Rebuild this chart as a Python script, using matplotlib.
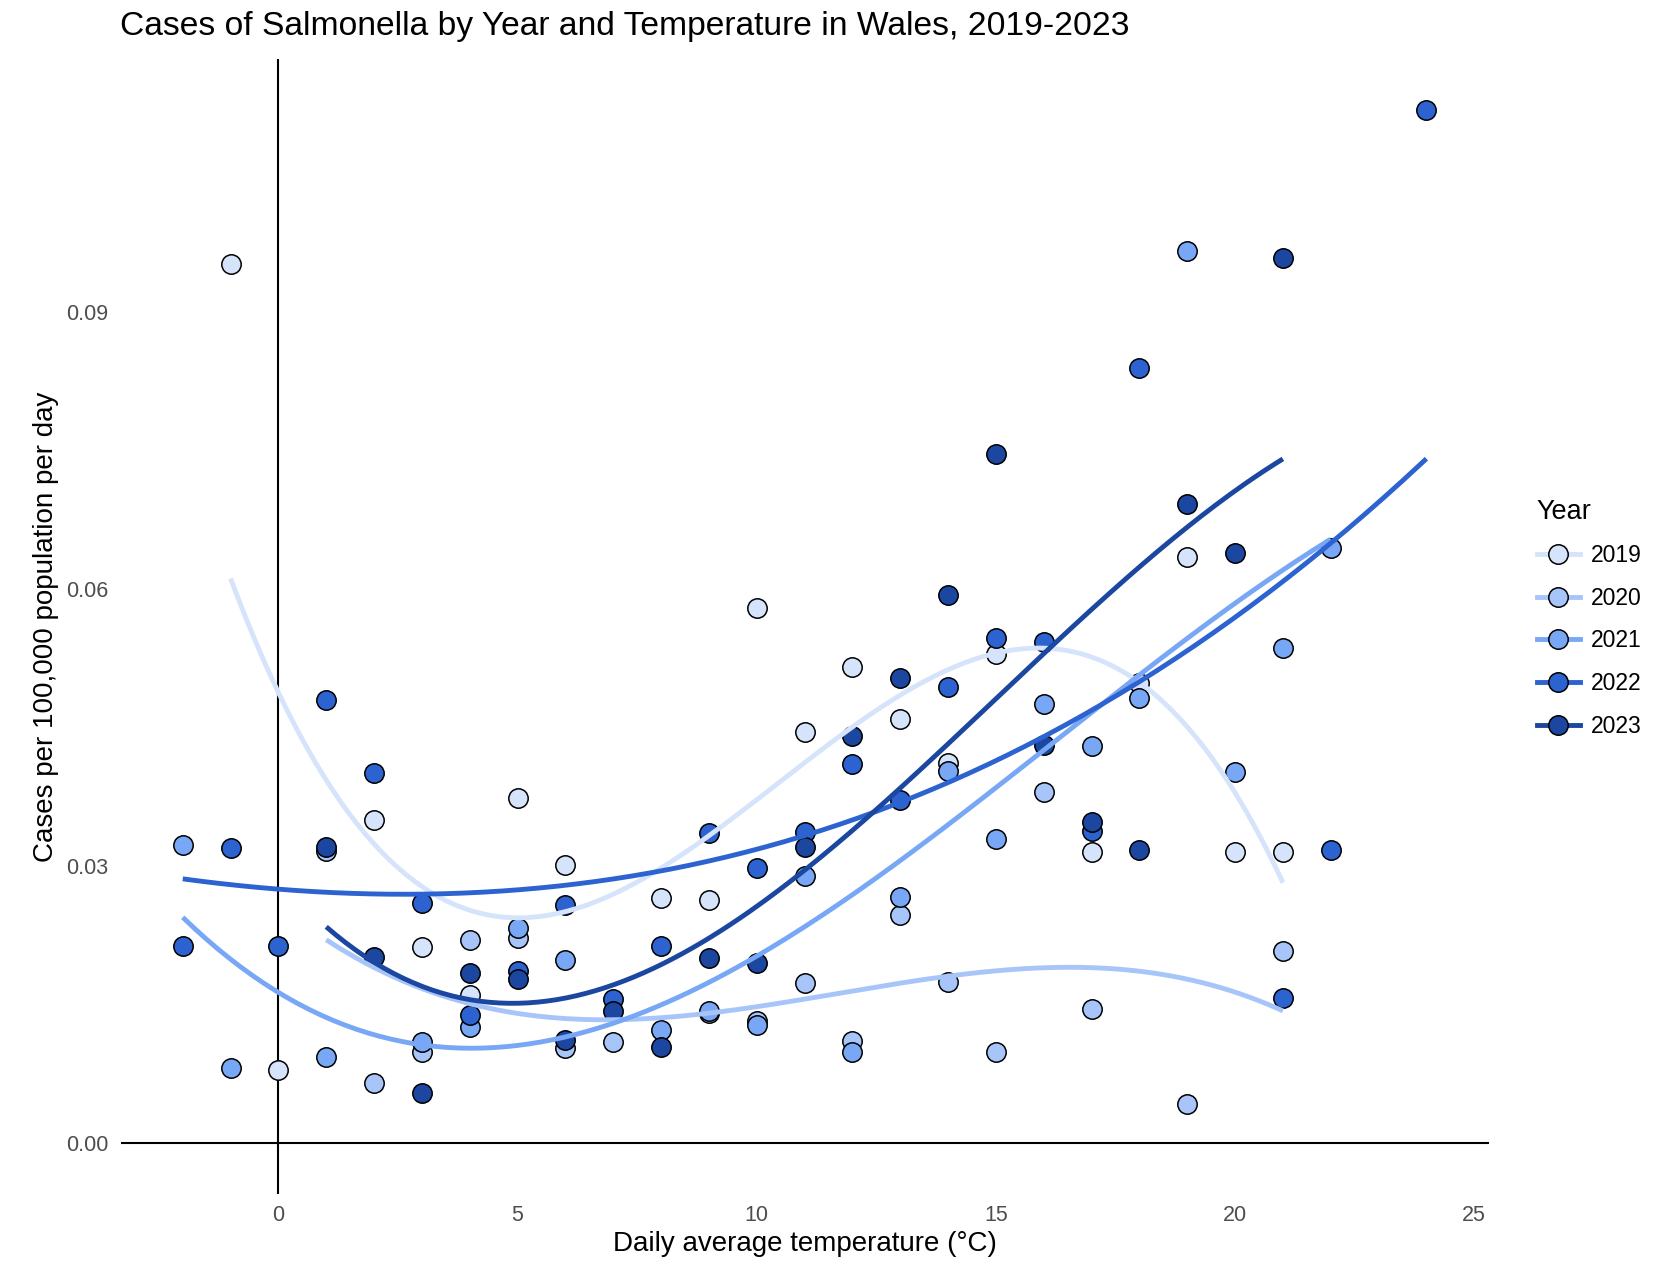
import numpy as np
import matplotlib
matplotlib.use("Agg")
import matplotlib.pyplot as plt
from matplotlib.lines import Line2D

plt.rcParams['font.family'] = ['Liberation Sans', 'DejaVu Sans']

years = ['2019', '2020', '2021', '2022', '2023']
colors = ['#d6e4fb', '#a8c5f9', '#78a7f6', '#2c63d0', '#1b47a1']

# daily average temperature (°C) and cases per 100,000 per day
temp_2019 = [-1, 0, 2, 3, 4, 5, 6, 8, 9, 10, 11, 12, 13, 14, 15, 17, 18, 19, 20, 21]
cases_2019 = [0.0952, 0.0079, 0.0349, 0.0212, 0.0160, 0.0373, 0.0301, 0.0265, 0.0263, 0.0579,
              0.0445, 0.0515, 0.0459, 0.0411, 0.0529, 0.0315, 0.0498, 0.0634, 0.0315, 0.0315]

temp_2020 = [1, 2, 3, 4, 5, 6, 7, 9, 10, 11, 12, 13, 14, 15, 16, 17, 19, 21]
cases_2020 = [0.0316, 0.0064, 0.0098, 0.0219, 0.0222, 0.0102, 0.0109, 0.0140, 0.0132, 0.0173,
              0.0110, 0.0246, 0.0174, 0.0098, 0.0380, 0.0145, 0.0042, 0.0208]

temp_2021 = [-2, -1, 1, 3, 4, 5, 6, 8, 9, 10, 11, 12, 13, 14, 15, 16, 17, 18, 19, 20, 21, 22]
cases_2021 = [0.0322, 0.0081, 0.0093, 0.0109, 0.0125, 0.0232, 0.0198, 0.0122, 0.0142, 0.0127,
              0.0289, 0.0098, 0.0266, 0.0402, 0.0329, 0.0475, 0.0430, 0.0481, 0.0966, 0.0401,
              0.0536, 0.0644]

temp_2022 = [-2, -1, 0, 1, 2, 3, 4, 5, 6, 7, 8, 9, 10, 11, 12, 13, 14, 15, 16, 17, 18, 21, 22, 24]
cases_2022 = [0.0213, 0.0319, 0.0213, 0.0479, 0.0400, 0.0260, 0.0138, 0.0186, 0.0257, 0.0156,
              0.0213, 0.0335, 0.0297, 0.0336, 0.0410, 0.0371, 0.0493, 0.0547, 0.0542, 0.0337,
              0.0839, 0.0157, 0.0317, 0.1118]

temp_2023 = [1, 2, 3, 4, 5, 6, 7, 8, 9, 10, 11, 12, 13, 14, 15, 16, 17, 18, 19, 20, 21]
cases_2023 = [0.0320, 0.0201, 0.0054, 0.0184, 0.0177, 0.0111, 0.0142, 0.0104, 0.0200, 0.0195,
              0.0320, 0.0440, 0.0503, 0.0593, 0.0746, 0.0431, 0.0347, 0.0317, 0.0692, 0.0639,
              0.0958]

temps = [temp_2019, temp_2020, temp_2021, temp_2022, temp_2023]
cases = [cases_2019, cases_2020, cases_2021, cases_2022, cases_2023]

fig = plt.figure(figsize=(16.72, 12.67), dpi=100)
ax = fig.add_axes([0.0721, 0.0574, 0.8182, 0.8963])

ax.axhline(0, color='black', lw=1.5, zorder=1)
ax.axvline(0, color='black', lw=1.5, zorder=1)

for t, c, col in zip(temps, cases, colors):
    ax.scatter(t, c, s=195, color=col, edgecolor='black', linewidth=1.1, zorder=3)

# cubic trend per year
for t, c, col in zip(temps, cases, colors):
    t = np.array(t, dtype=float)
    coef = np.polyfit(t, c, 3)
    xs = np.linspace(t.min(), t.max(), 200)
    ax.plot(xs, np.polyval(coef, xs), color=col, lw=3.5, zorder=4, solid_capstyle='butt')

ax.set_xlim(-3.3, 25.3)
ax.set_ylim(-0.0056, 0.1174)
ax.set_xticks([0, 5, 10, 15, 20, 25])
ax.set_yticks([0.0, 0.03, 0.06, 0.09])
ax.set_yticklabels(['0.00', '0.03', '0.06', '0.09'])
ax.tick_params(length=0, labelsize=15.5, labelcolor='#4d4d4d')
ax.tick_params(axis='y', pad=9)
ax.tick_params(axis='x', pad=8)
for s in ax.spines.values():
    s.set_visible(False)

ax.set_xlabel('Daily average temperature (°C)', fontsize=20, labelpad=3)
ax.set_ylabel('Cases per 100,000 population per day', fontsize=20, labelpad=5)
fig.text(120 / 1672, 1 - 26 / 1267, 'Cases of Salmonella by Year and Temperature in Wales, 2019-2023',
         fontsize=24.2, va='center', ha='left')

handles = [Line2D([0], [0], color=col, lw=3.5, marker='o', markersize=14,
                  markerfacecolor=col, markeredgecolor='black', markeredgewidth=1.1)
           for col in colors]
leg = fig.legend(handles, years, title='Year', loc='upper left',
                 bbox_to_anchor=(1516 / 1672, 1 - 478 / 1267), frameon=False,
                 fontsize=16.5, title_fontsize=19.5, handlelength=1.9, labelspacing=0.86,
                 handletextpad=0.45)
leg._legend_box.align = 'left'
leg._legend_box.sep = 14

fig.savefig('out.png', dpi=100)
